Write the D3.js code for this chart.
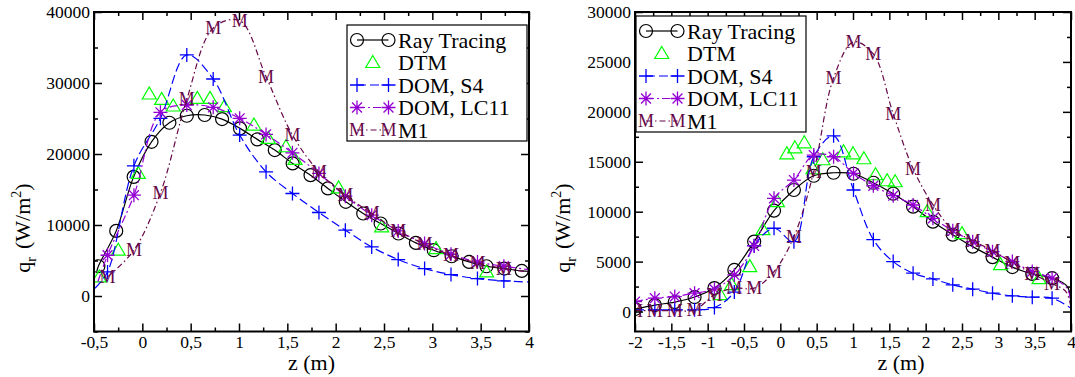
<!DOCTYPE html>
<html>
<head>
<meta charset="utf-8">
<script src="https://cdn.jsdelivr.net/npm/d3@7"></script>
<style>
  body { margin: 0; background: #fff; }
  svg { display: block; }
  svg text { font-family: "Liberation Serif", "Times New Roman", serif; }
</style>
</head>
<body>
<svg width="1075" height="377"></svg>
<script>
"use strict";

// ---- left panel data ----
const leftRtZ = [-0.455, -0.27, -0.09, 0.095, 0.28, 0.46, 0.645, 0.825, 1.01, 1.19, 1.37, 1.555, 1.74, 1.92, 2.105, 2.285, 2.465, 2.65, 2.83, 3.015, 3.2, 3.38, 3.56, 3.745, 3.925];
const leftRtQ = [4190, 9170, 16780, 21720, 24400, 25390, 25490, 24920, 23610, 22060, 20550, 18670, 17020, 15150, 13260, 11620, 10210, 8800, 7480, 6450, 5600, 4800, 4190, 3860, 3530];
const leftRtTail = [[-0.472, 3390], [4.0, 3450]];

const leftDtmZ = [-0.445, -0.249, -0.042, 0.072, 0.2, 0.32, 0.569, 0.7, 0.848, 1.155, 1.303, 1.486, 1.579, 2.03, 2.476, 3.038, 3.562];
const leftDtmQ = [2680, 6450, 17260, 28450, 27700, 26760, 27840, 27840, 26660, 24080, 22200, 21020, 19240, 15230, 9730, 6680, 3390];

const leftZ = [-0.36, -0.087, 0.187, 0.46, 0.733, 1.007, 1.28, 1.553, 1.827, 2.1, 2.373, 2.647, 2.92, 3.193, 3.467, 3.74];
const leftS4Q = [3390, 18340, 25020, 33950, 30560, 22670, 17490, 14440, 11760, 9270, 6910, 5130, 3860, 3020, 2450, 2120];
const leftS4Tail = [[-0.49, 1100], [4.0, 1970]];
const leftLc11Q = [5740, 14200, 25870, 26900, 26570, 25020, 22760, 20170, 17260, 14060, 11380, 9170, 7390, 5880, 4800, 4190];
const leftLc11Tail = [[-0.46, 2000], [4.0, 3700]];
const leftM1Q = [2680, 6450, 14500, 27700, 37720, 38790, 30890, 22670, 17490, 14200, 11620, 9170, 7290, 5740, 4650, 3860];
const leftM1Tail = [[4.0, 3400]];

// ---- right panel data ----
const rightZ = [-2, -1.727, -1.453, -1.18, -0.907, -0.633, -0.36, -0.087, 0.187, 0.46, 0.733, 1.007, 1.28, 1.553, 1.827, 2.1, 2.373, 2.647, 2.92, 3.193, 3.467, 3.74];
const rightRtQ = [250, 650, 950, 1450, 2350, 4170, 7000, 10100, 12170, 13600, 13900, 13800, 12900, 11800, 10500, 9000, 7700, 6500, 5450, 4450, 3770, 3340];
const rightRtTail = [[3.95, 2500], [4.0, 300]];
const rightS4Q = [170, 170, 170, 170, 400, 1950, 6600, 8340, 7000, 15500, 17600, 12170, 7200, 5000, 3840, 3270, 2670, 2240, 1840, 1570, 1440, 1340];
const rightS4Tail = [[4.0, 340]];
const rightLc11Q = [1000, 1340, 1500, 1840, 2240, 3670, 6570, 11340, 13170, 15670, 15500, 13840, 12600, 11600, 10670, 9340, 8100, 7000, 6000, 5000, 4000, 3340];
const rightLc11Tail = [[3.95, 2300], [4.0, 500]];
const rightM1Q = [100, 100, 100, 150, 1670, 2340, 2340, 4000, 7500, 14000, 23400, 27000, 25800, 19800, 14300, 10700, 8200, 7100, 6100, 4900, 3800, 2800];
const rightM1Tail = [[3.93, 2000], [4.0, 400]];

const rightDtmZ = [-0.83, -0.67, -0.42, -0.24, -0.04, 0.09, 0.2, 0.33, 0.45, 0.585, 0.87, 1.0, 1.15, 1.31, 1.47, 1.58, 2.02, 2.5, 3.03, 3.56];
const rightDtmQ = [1700, 2700, 4500, 8200, 11000, 15800, 16400, 16900, 14300, 15200, 16000, 15800, 15300, 13700, 13100, 13000, 10000, 7800, 4700, 3300];

// ---- tick values ----
const leftXMajor = [-0.5, 0, 0.5, 1, 1.5, 2, 2.5, 3, 3.5, 4];
const leftXMinor = [-0.25, 0.25, 0.75, 1.25, 1.75, 2.25, 2.75, 3.25, 3.75];
const leftYMajor = [0, 10000, 20000, 30000, 40000];
const leftYMinor = [-5000, 5000, 15000, 25000, 35000];
const rightXMajor = [-2, -1.5, -1, -0.5, 0, 0.5, 1, 1.5, 2, 2.5, 3, 3.5, 4];
const rightXMinor = [-1.75, -1.25, -0.75, -0.25, 0.25, 0.75, 1.25, 1.75, 2.25, 2.75, 3.25, 3.75];
const rightYMajor = [0, 5000, 10000, 15000, 20000, 25000, 30000];
const rightYMinor = [2500, 7500, 12500, 17500, 22500, 27500];

const seriesNames = ["Ray Tracing", "DTM", "DOM, S4", "DOM, LC11", "M1"];

const serif = "Liberation Serif, Times New Roman, serif";
const svg = d3.select("svg");

const styles = [
  { color: "#000000", dash: null, marker: "circle", line: true },
  { color: "#00ff00", dash: null, marker: "triangle", line: false },
  { color: "#0000ff", dash: "9,4", marker: "plus", line: true },
  { color: "#9400d3", dash: "8,3,2,3", marker: "star", line: true },
  { color: "#670748", dash: "6,3,1.5,3", marker: "M", line: true }
];

const drawMarker = (g, type, color, x, y) => {
  if (type === "circle") {
    g.append("circle").attr("cx", x).attr("cy", y).attr("r", 6.5)
      .attr("fill", "none").attr("stroke", color).attr("stroke-width", 1.2);
  } else if (type === "triangle") {
    g.append("path")
      .attr("d", `M${x},${y - 7}L${x + 7},${y + 5}L${x - 7},${y + 5}Z`)
      .attr("fill", "none").attr("stroke", color).attr("stroke-width", 1.2);
  } else if (type === "plus") {
    g.append("path")
      .attr("d", `M${x - 7},${y}H${x + 7}M${x},${y - 7}V${y + 7}`)
      .attr("stroke", color).attr("stroke-width", 1.3);
  } else if (type === "star") {
    const r = 7, d = r * Math.SQRT1_2;
    g.append("path")
      .attr("d", `M${x - r},${y}H${x + r}M${x},${y - r}V${y + r}` +
        `M${x - d},${y - d}L${x + d},${y + d}M${x - d},${y + d}L${x + d},${y - d}`)
      .attr("stroke", color).attr("stroke-width", 1.3);
  } else if (type === "M") {
    g.append("text").attr("x", x).attr("y", y + 6)
      .attr("text-anchor", "middle").attr("font-size", 18)
      .attr("font-family", serif)
      .attr("fill", color).text("M");
  }
};

const drawPanel = (p, idx) => {
  const x = d3.scaleLinear().domain(p.xDomain).range([p.left, p.right]);
  const y = d3.scaleLinear().domain(p.yDomain).range([331.5, 12]);
  const g = svg.append("g");

  g.append("clipPath").attr("id", "clip" + idx)
    .append("rect").attr("x", p.left).attr("y", 12)
    .attr("width", p.right - p.left).attr("height", 319.5);

  const plot = g.append("g").attr("clip-path", `url(#clip${idx})`);

  p.series.forEach((s, i) => {
    const st = styles[i];
    const pts = s.z.map((z, k) => [z, s.q[k]]);
    if (st.line) {
      const all = pts.concat(s.tail || []).sort((a, b) => a[0] - b[0]);
      plot.append("path")
        .datum(all)
        .attr("fill", "none")
        .attr("stroke", st.color)
        .attr("stroke-width", 1.2)
        .attr("stroke-dasharray", st.dash)
        .attr("d", d3.line().x((d) => x(d[0])).y((d) => y(d[1]))
          .curve(d3.curveCatmullRom.alpha(0.5)));
    }
    const mg = plot.append("g");
    pts.forEach((d) => drawMarker(mg, st.marker, st.color, x(d[0]), y(d[1])));
  });

  const fmt = (d) => String(d).replace(".", ",");
  const bottom = 331.5, top = 12;

  const axes = [
    [d3.axisBottom(x).tickValues(p.xMajor).tickSize(-8).tickPadding(4).tickFormat(fmt), `translate(0,${bottom})`],
    [d3.axisBottom(x).tickValues(p.xMinor).tickSize(-4).tickFormat(""), `translate(0,${bottom})`],
    [d3.axisTop(x).tickValues(p.xMajor).tickSize(-8).tickFormat(""), `translate(0,${top})`],
    [d3.axisTop(x).tickValues(p.xMinor).tickSize(-4).tickFormat(""), `translate(0,${top})`],
    [d3.axisLeft(y).tickValues(p.yMajor).tickSize(-8).tickPadding(4).tickFormat((d) => String(d)), `translate(${p.left},0)`],
    [d3.axisLeft(y).tickValues(p.yMinor).tickSize(-4).tickFormat(""), `translate(${p.left},0)`],
    [d3.axisRight(y).tickValues(p.yMajor).tickSize(-8).tickFormat(""), `translate(${p.right},0)`],
    [d3.axisRight(y).tickValues(p.yMinor).tickSize(-4).tickFormat(""), `translate(${p.right},0)`]
  ];
  axes.forEach(([ax, tr]) => {
    const a = g.append("g").attr("transform", tr).call(ax)
      .attr("font-family", serif).attr("font-size", 17.5);
    a.select(".domain").remove();
    a.selectAll("line").attr("stroke", "#000").attr("stroke-width", 1.5);
    a.selectAll("text").attr("fill", "#000");
  });

  g.append("rect")
    .attr("x", p.left).attr("y", top)
    .attr("width", p.right - p.left).attr("height", bottom - top)
    .attr("fill", "none").attr("stroke", "#000").attr("stroke-width", 2);

  // axis titles
  g.append("text")
    .attr("x", p.xLabelX).attr("y", 370)
    .attr("text-anchor", "middle").attr("font-size", 22)
    .attr("font-family", serif)
    .text("z (m)");

  const yl = g.append("text")
    .attr("transform", `translate(${p.yLabelX},228) rotate(-90)`)
    .attr("text-anchor", "middle").attr("font-size", 22)
    .attr("font-family", serif);
  yl.append("tspan").text("q");
  yl.append("tspan").attr("font-size", 14).attr("dy", 6).text("r");
  yl.append("tspan").attr("dy", -6).attr("dx", 8).text("(W/m");
  yl.append("tspan").attr("font-size", 14).attr("dy", -9).text("2");
  yl.append("tspan").attr("dy", 9).text(")");

  // legend
  const lg = g.append("g");
  lg.append("rect")
    .attr("x", p.legend.x).attr("y", p.legend.y)
    .attr("width", p.legend.w).attr("height", 116)
    .attr("fill", "#fff").attr("stroke", "#000").attr("stroke-width", 1.2);
  seriesNames.forEach((name, i) => {
    const st = styles[i];
    const cy = p.legend.y + 15 + i * 22.5;
    const x1 = p.legend.x + 10, x2 = p.legend.x + 41.5;
    if (st.line) {
      lg.append("line").attr("x1", x1).attr("x2", x2).attr("y1", cy).attr("y2", cy)
        .attr("stroke", st.color).attr("stroke-width", 1.2)
        .attr("stroke-dasharray", st.dash);
      drawMarker(lg, st.marker, st.color, x1, cy);
      drawMarker(lg, st.marker, st.color, x2, cy);
    } else {
      drawMarker(lg, st.marker, st.color, (x1 + x2) / 2, cy);
    }
    lg.append("text")
      .attr("x", p.legend.x + 51).attr("y", cy + 7.5)
      .attr("font-size", 22).attr("font-family", serif).text(name);
  });
};

const panels = [
  {
    left: 94, right: 529, xDomain: [-0.5, 4], yDomain: [-5000, 40000],
    xMajor: leftXMajor, xMinor: leftXMinor, yMajor: leftYMajor, yMinor: leftYMinor,
    xLabelX: 311.5, yLabelX: 30,
    legend: { x: 347, y: 25, w: 180 },
    series: [
      { z: leftRtZ, q: leftRtQ, tail: leftRtTail },
      { z: leftDtmZ, q: leftDtmQ },
      { z: leftZ, q: leftS4Q, tail: leftS4Tail },
      { z: leftZ, q: leftLc11Q, tail: leftLc11Tail },
      { z: leftZ, q: leftM1Q, tail: leftM1Tail }
    ]
  },
  {
    left: 635, right: 1071, xDomain: [-2, 4], yDomain: [-2000, 30000],
    xMajor: rightXMajor, xMinor: rightXMinor, yMajor: rightYMajor, yMinor: rightYMinor,
    xLabelX: 901, yLabelX: 570,
    legend: { x: 636, y: 16, w: 170 },
    series: [
      { z: rightZ, q: rightRtQ, tail: rightRtTail },
      { z: rightDtmZ, q: rightDtmQ },
      { z: rightZ, q: rightS4Q, tail: rightS4Tail },
      { z: rightZ, q: rightLc11Q, tail: rightLc11Tail },
      { z: rightZ, q: rightM1Q, tail: rightM1Tail }
    ]
  }
];

panels.forEach(drawPanel);
</script>
</body>
</html>
